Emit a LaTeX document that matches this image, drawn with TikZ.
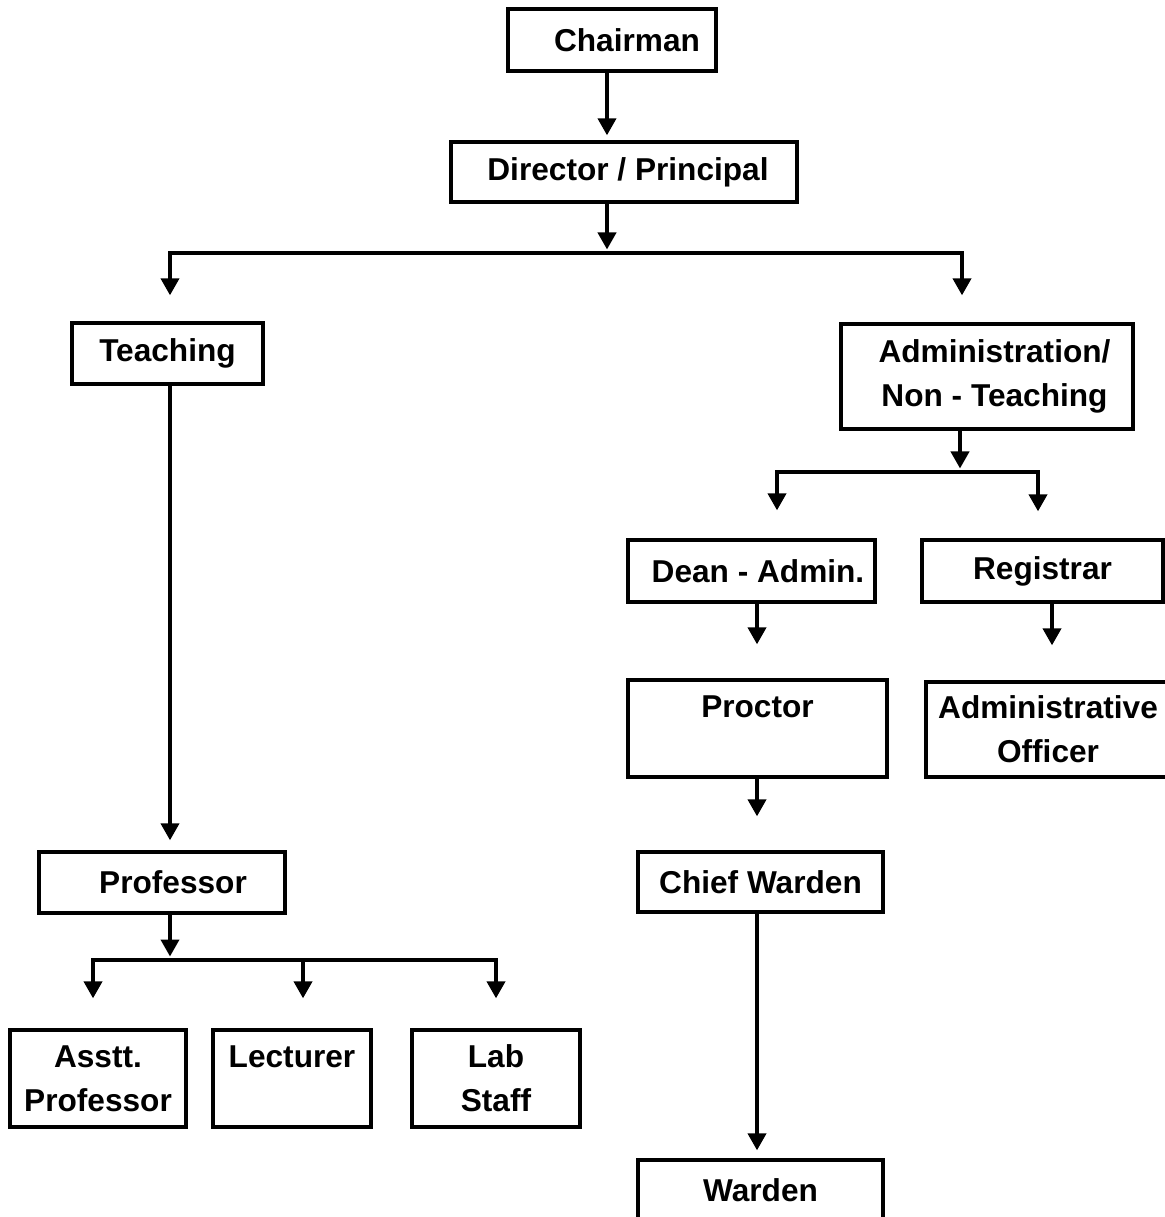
\documentclass[tikz,border=0pt]{standalone}
\usepackage{fontspec}
\setmainfont{Liberation Sans}
\usetikzlibrary{positioning,arrows.meta}
\tikzset{every picture/.style={>={Triangle[width=0.36cm,length=0.34cm]},line width=2.2pt}}
\tikzset{post/.style={draw,line width=1.9pt,align=center,inner sep=0pt,font=\bfseries\fontsize{18}{25}\selectfont}}

\begin{document}
\begin{tikzpicture}[x=0.02cm,y=-0.02cm]
  \useasboundingbox (0,0) rectangle (1165,1217);
  % posts
  \node[post,minimum width=4.16cm,minimum height=1.24cm] (chairman) at (612,40) {\hspace*{0.6cm}Chairman};
  \node[post,minimum width=6.92cm,minimum height=1.2cm] (director) at (624,172) {\hspace*{0.16cm}Director / Principal};
  \node[post,minimum width=3.82cm,minimum height=1.22cm] (teaching) at (167.5,353.5) {Teaching};
  \node[post,minimum width=5.84cm,minimum height=2.1cm] (admin) at (987,376.5) {\hspace*{0.3cm}Administration/\\\hspace*{0.3cm}Non - Teaching};
  \node[post,minimum width=4.92cm,minimum height=1.22cm] (professor) at (162,882.5) {\hspace*{0.44cm}Professor};
  \node[post,minimum width=3.52cm,minimum height=1.94cm] (asstprof) at (98,1078.5) {Asstt.\\Professor};
  \node[post,minimum width=3.16cm,minimum height=1.94cm] (lecturer) at (292,1078.5) {Lecturer\\\mbox{}};
  \node[post,minimum width=3.36cm,minimum height=1.94cm] (labstaff) at (496,1078.5) {Lab\\Staff};
  \node[post,minimum width=4.94cm,minimum height=1.24cm] (dean) at (751.5,571) {\hspace*{0.26cm}Dean - Admin.};
  \node[post,minimum width=4.82cm,minimum height=1.24cm] (registrar) at (1042.5,571) {Registrar};
  \node[post,minimum width=5.18cm,minimum height=1.94cm] (proctor) at (757.5,728.5) {Proctor\\\mbox{}};
  \node[post,minimum width=4.88cm,minimum height=1.9cm] (adminofficer) at (1048,729.5) {Administrative\\Officer};
  \node[post,minimum width=4.9cm,minimum height=1.2cm] (chiefwarden) at (760.5,882) {Chief Warden};
  \node[post,minimum width=4.9cm,minimum height=1.2cm] (warden) at (760.5,1190) {Warden};

  % splits and columns
  \coordinate (split) at (607,253);
  \coordinate (adminsplit) at (960,472);
  \coordinate (profsplit) at (170,960);
  \coordinate (teachcol) at (170,0);
  \coordinate (admincol) at (962,0);
  \coordinate (asstcol) at (93,0);
  \coordinate (lectcol) at (303,0);
  \coordinate (labcol) at (496,0);
  \coordinate (deancol) at (777,0);
  \coordinate (regcol) at (1038,0);
  \coordinate (wardcol) at (757,0);
  \coordinate (aocol) at (1052,0);

  % top
  \draw[->,shorten >=0.1cm] (chairman.south -| split) -- (director.north -| split);
  \draw[->,shorten >=2pt] (director.south -| split) -- (split);
  \draw[->,shorten >=0.52cm] (split) -| (teaching.north -| teachcol);
  \draw[->,shorten >=0.54cm] (split) -| (admin.north -| admincol);

  % teaching side
  \draw[->,shorten >=0.2cm] (teaching.south -| teachcol) -- (professor.north -| teachcol);
  \draw[->,shorten >=2pt] (professor.south -| profsplit) -- (profsplit);
  \draw[->,shorten >=0.6cm] (profsplit) -| (asstprof.north -| asstcol);
  \draw[->,shorten >=0.6cm] (profsplit -| lectcol) -- (lecturer.north -| lectcol);
  \draw[->,shorten >=0.6cm] (profsplit) -| (labstaff.north -| labcol);

  % administration side
  \draw[->,shorten >=2pt] (admin.south -| adminsplit) -- (adminsplit);
  \draw[->,shorten >=0.56cm] (adminsplit) -| (dean.north -| deancol);
  \draw[->,shorten >=0.54cm] (adminsplit) -| (registrar.north -| regcol);
  \draw[->,shorten >=0.68cm] (dean.south -| wardcol) -- (proctor.north -| wardcol);
  \draw[->,shorten >=0.7cm] (registrar.south -| aocol) -- (adminofficer.north -| aocol);
  \draw[->,shorten >=0.68cm] (proctor.south -| wardcol) -- (chiefwarden.north -| wardcol);
  \draw[->,shorten >=0.16cm] (chiefwarden.south -| wardcol) -- (warden.north -| wardcol);
\end{tikzpicture}
\end{document}
